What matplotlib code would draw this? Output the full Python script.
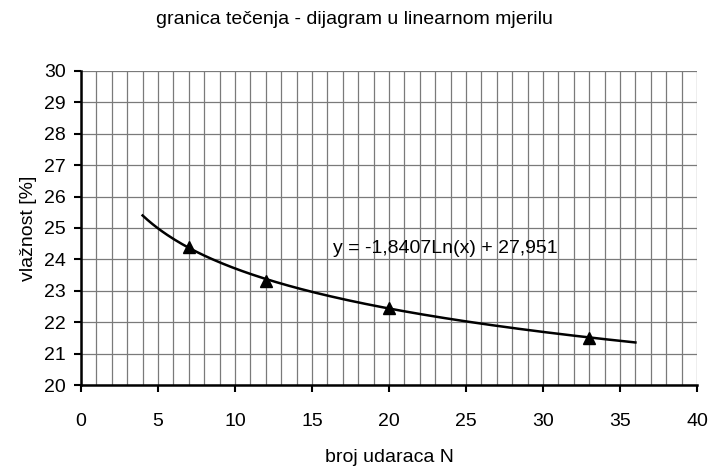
import numpy as np
import matplotlib
matplotlib.use("Agg")
import matplotlib.pyplot as plt
from matplotlib.ticker import MultipleLocator

plt.rcParams['font.family'] = ['Liberation Sans', 'DejaVu Sans']

# izmjereni podaci
broj_udaraca = [7, 12, 20, 33]
vlaznost = [24.4, 23.3, 22.45, 21.5]

# logaritamska linija trenda (koeficijenti s grafa)
trend_a = -1.8407
trend_b = 27.951
trend_od, trend_do = 4, 36
jednadzba = "y = -1,8407Ln(x) + 27,951"

fig = plt.figure(figsize=(7.13, 4.68), dpi=100)
ax = fig.add_axes([81/713, 1 - 385/468, (697-81)/713, (385-71)/468])

xt = np.linspace(trend_od, trend_do, 200)
ax.plot(xt, trend_a * np.log(xt) + trend_b, color='black', lw=1.8, zorder=3)
ax.plot(broj_udaraca, vlaznost, '^', color='black', markersize=9, zorder=4)

ax.text(16.35, 24.36, jednadzba, fontsize=14, va='center', ha='left')

ax.set_xlim(0, 40)
ax.set_ylim(20, 30)
ax.xaxis.set_major_locator(MultipleLocator(5))
ax.xaxis.set_minor_locator(MultipleLocator(1))
ax.yaxis.set_major_locator(MultipleLocator(1))
ax.grid(True, which='both', color='#7a7a7a', lw=0.9)
ax.set_axisbelow(True)

for s in ['top', 'right']:
    ax.spines[s].set_visible(False)
for s in ['left', 'bottom']:
    ax.spines[s].set_linewidth(1.8)
ax.tick_params(which='major', length=5, width=1.5, labelsize=14, direction='out')
ax.tick_params(axis='x', pad=15)
ax.tick_params(axis='y', pad=6)
ax.tick_params(which='minor', length=0)

fig.text(354/713, 1 - 19/468, "granica tečenja - dijagram u linearnom mjerilu",
         fontsize=14, ha='center', va='center')
ax.set_xlabel("broj udaraca N", fontsize=14, va='top')
ax.xaxis.set_label_coords(0.5, -(449 - 385) / 314)
ax.set_ylabel("vlažnost [%]", fontsize=14)
ax.yaxis.set_label_coords(-(81 - 37) / 616, 0.5)

fig.savefig("out.png", dpi=100)
